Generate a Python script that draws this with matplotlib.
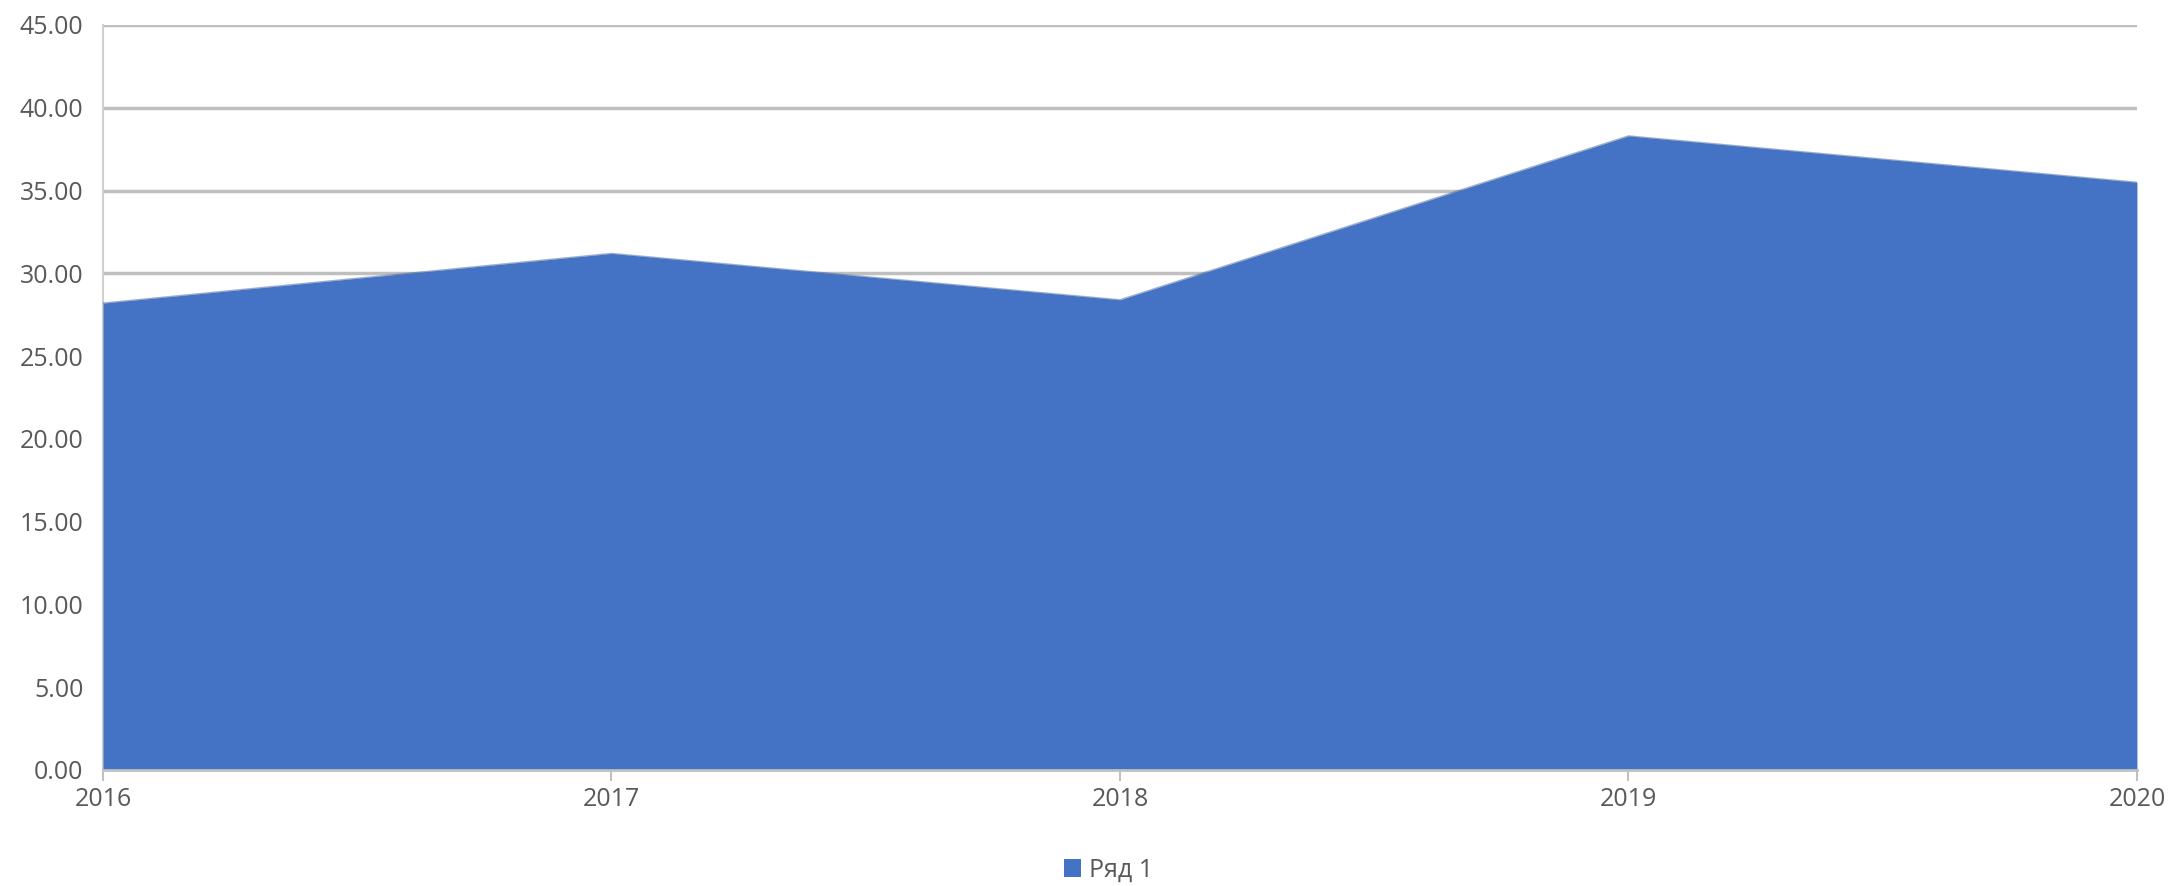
import matplotlib
matplotlib.use("Agg")
import matplotlib.pyplot as plt
from matplotlib.patches import Patch

years = ["2016", "2017", "2018", "2019", "2020"]
values = [28.2, 31.2, 28.4, 38.3, 35.5]
series_name = "Ряд 1"
yticks = [0, 5, 10, 15, 20, 25, 30, 35, 40, 45]

plt.rcParams['font.family'] = ['Open Sans', 'DejaVu Sans']

fig = plt.figure(figsize=(21.77, 8.86), dpi=100)
ax = fig.add_axes([0.0473, 0.131, 0.9343, 0.8408])

x = list(range(len(years)))
ax.fill_between(x, 0, values, color="#4472C4", linewidth=0, zorder=3)
ax.plot(x, values, color="#3a5f9f", linewidth=1.0, alpha=0.5, zorder=3)

ax.set_xlim(0, len(years) - 1)
ax.set_ylim(0, 45)
ax.set_yticks(yticks)
ax.set_yticklabels([f"{v:.2f}" for v in yticks])
ax.set_xticks(x)
ax.set_xticklabels(years)

ax.grid(axis="y", color="#bfbfbf", linewidth=2.5, zorder=1)
ax.set_axisbelow(True)
for s in ["top", "right"]:
    ax.spines[s].set_visible(False)
ax.spines["left"].set_color("#d0d0d0")
ax.spines["left"].set_linewidth(1.5)
ax.spines["bottom"].set_color("#c0c0c0")
ax.spines["bottom"].set_linewidth(2)
ax.spines["bottom"].set_zorder(4)

ax.tick_params(axis="y", length=0, pad=14, labelsize=18, labelcolor="#595959")
ax.tick_params(axis="x", length=8, width=1.5, color="#c0c0c0", pad=4, labelsize=18, labelcolor="#595959")

handles = [Patch(facecolor="#4472C4", edgecolor="none", label=series_name)]
fig.legend(handles=handles, loc="center", bbox_to_anchor=(0.509, 0.018), frameon=False,
           fontsize=18, labelcolor="#595959", handlelength=0.7, handleheight=0.7, handletextpad=0.3)

fig.savefig("out.png", dpi=100)
